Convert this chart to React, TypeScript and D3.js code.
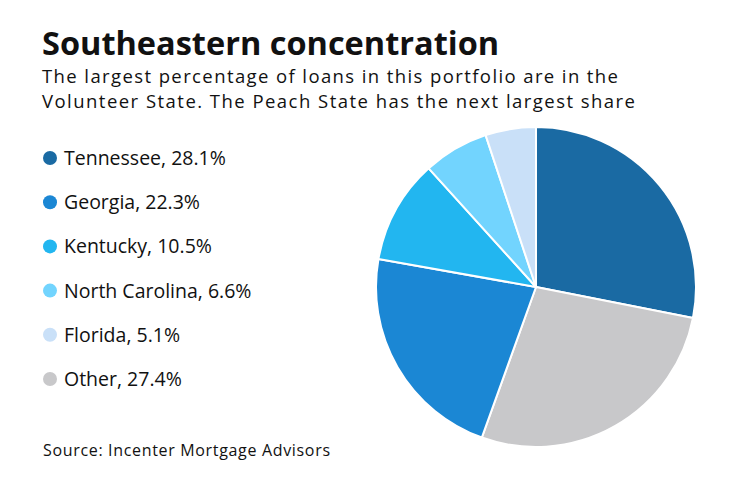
import { useMemo } from "react";
import * as d3 from "d3";

const states = ["Tennessee", "Other", "Georgia", "Kentucky", "North Carolina", "Florida"];
const shares = [28.1, 27.4, 22.3, 10.5, 6.6, 5.1];
const colors = ["#1a6aa3", "#c8c8ca", "#1b87d4", "#22b6f0", "#72d4fe", "#c9e0f8"];
const legendOrder = ["Tennessee", "Georgia", "Kentucky", "North Carolina", "Florida", "Other"];

const title = "Southeastern concentration";
const subtitle = [
  "The largest percentage of loans in this portfolio are in the",
  "Volunteer State. The Peach State has the next largest share",
];
const subtitleWidths = [576, 593];
const source = "Source: Incenter Mortgage Advisors";

const W = 740;
const H = 482;
const FONT = "'Open Sans', sans-serif";

export default function App() {
  const cx = 536;
  const cy = 287;
  const radius = 160;

  const arcs = useMemo(() => {
    const pie = d3
      .pie<number>()
      .sort(null)
      .value((d) => d);
    return pie(shares);
  }, []);

  const arcGen = d3.arc<d3.PieArcDatum<number>>().innerRadius(0).outerRadius(radius);

  const legendY = d3
    .scalePoint<string>()
    .domain(legendOrder)
    .range([158, 379]);

  return (
    <svg
      width={W}
      height={H}
      style={{ position: "absolute", left: 0, top: 0, background: "#fff" }}
      fontFamily={FONT}
    >
      <text x={42} y={55} fontSize={32.5} fontWeight={700} fill="#111">
        {title}
      </text>
      {subtitle.map((line, i) => (
        <text
          key={i}
          x={42}
          y={83 + i * 25}
          fontSize={18.5}
          fill="#111"
          textLength={subtitleWidths[i]}
          lengthAdjust="spacing"
        >
          {line}
        </text>
      ))}

      {legendOrder.map((name) => {
        const idx = states.indexOf(name);
        const y = legendY(name) ?? 0;
        return (
          <g key={name}>
            <circle cx={50} cy={y} r={7} fill={colors[idx]} />
            <text x={64} y={y + 7} fontSize={19.5} fill="#111">
              {`${name}, ${shares[idx].toFixed(1)}%`}
            </text>
          </g>
        );
      })}

      <text x={43} y={456} fontSize={16} fill="#111" textLength={287} lengthAdjust="spacing">
        {source}
      </text>

      <g transform={`translate(${cx},${cy})`}>
        {arcs.map((a, i) => (
          <path
            key={states[i]}
            d={arcGen(a) ?? ""}
            fill={colors[i]}
            stroke="#fff"
            strokeWidth={2}
            strokeLinejoin="round"
          />
        ))}
      </g>
    </svg>
  );
}
